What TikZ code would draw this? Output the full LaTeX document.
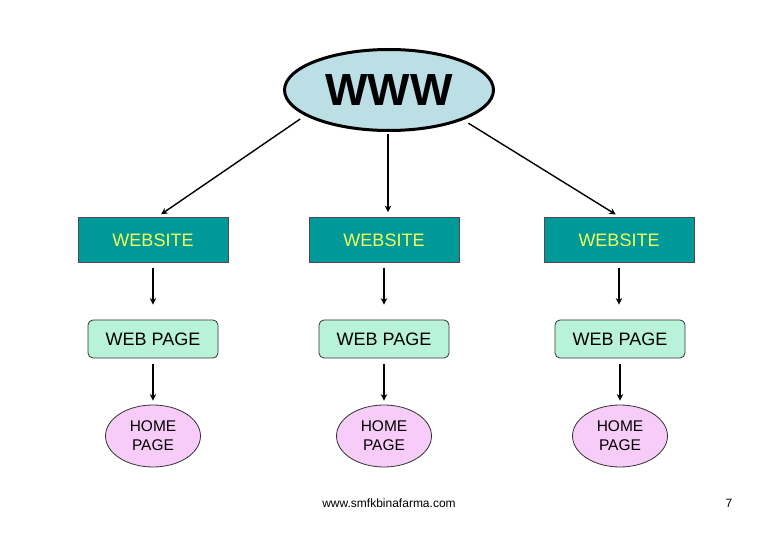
\documentclass[tikz,border=0pt]{standalone}
\usepackage{fontspec}
\setmainfont{Liberation Sans}
\usetikzlibrary{shapes.geometric,arrows.meta,calc}
\definecolor{wwwfill}{HTML}{BBDFE4}
\definecolor{teal1}{HTML}{009999}
\definecolor{ytext}{HTML}{F2FF5A}
\definecolor{mint}{HTML}{B8F2D8}
\definecolor{pink1}{HTML}{F8CCF8}
\tikzset{
  wwwnode/.style={ellipse, draw=black, line width=3pt, fill=wwwfill, minimum width=209pt, minimum height=81pt, inner sep=0pt, font=\fontsize{45}{45}\selectfont\bfseries},
  sitebox/.style={rectangle, draw=black!70, line width=0.8pt, fill=teal1, text=ytext, minimum width=150pt, minimum height=45pt, inner sep=0pt, font=\fontsize{18}{18}\selectfont},
  pagebox/.style={rectangle, rounded corners=5pt, draw=black!80, line width=0.8pt, fill=mint, minimum width=130pt, minimum height=38pt, inner sep=0pt, font=\fontsize{18}{18}\selectfont},
  homenode/.style={ellipse, draw=black!80, line width=0.8pt, fill=pink1, minimum width=95pt, minimum height=62pt, inner sep=0pt, align=center, font=\fontsize{15.5}{19}\selectfont},
  arr/.style={-{Stealth[length=6.5pt,width=6.5pt]}, line width=1.4pt, black},
  foot/.style={inner sep=0pt, font=\fontsize{12}{12}\selectfont}
}
\begin{document}
\begin{tikzpicture}[x=1pt,y=-1pt]
\useasboundingbox (0,0) rectangle (780,540);
\node[wwwnode] (www) at (389,90) {WWW};
\foreach \i/\x/\px in {1/153/153,2/384/384,3/619/620}{
  \node[sitebox] (ws\i) at (\x,240) {WEBSITE};
  \node[pagebox] (wp\i) at (\px,339) {WEB PAGE};
  \node[homenode] (hp\i) at (\px,436) {HOME\\PAGE};
  \draw[arr, shorten <=5pt, shorten >=15pt] (ws\i.south) -- (ws\i.south |- wp\i.north);
  \draw[arr, shorten <=6pt, shorten >=4pt] (wp\i.south) -- (hp\i.north);
}
\draw[arr, shorten <=6pt, shorten >=5pt] (www.197) -- ($(ws1.north)+(4,0)$);
\draw[arr, shorten <=2pt, shorten >=5pt] ([xshift=-1pt]www.south) -- ([xshift=-1pt]www.south |- ws2.north);
\draw[arr, shorten <=6pt, shorten >=5pt] (www.338) -- ($(ws3.north)+(1,0)$);
\node[foot] (url) at (389,503) {www.smfkbinafarma.com};
\node[foot] (pg) at (729,503) {7};
\end{tikzpicture}
\end{document}
